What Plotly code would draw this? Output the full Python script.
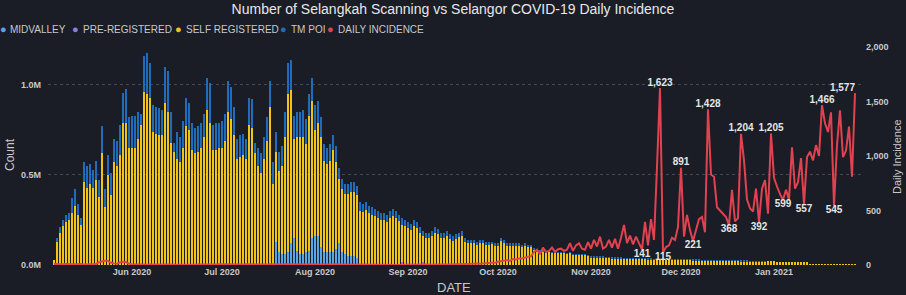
import pandas as pd
import plotly.graph_objects as go

# ---------------- data (counts in thousands) ----------------
start_date = "2020-05-06"

self_registered = [
    30, 130, 180, 215, 240, 250, 290,
    330, 280, 220, 460, 430, 450, 430,
    470, 380, 620, 320, 500, 390, 570,
    550, 610, 790, 790, 650, 650, 650,
    700, 780, 960, 950, 930, 740, 730,
    720, 720, 900, 850, 680, 630, 590,
    570, 650, 770, 750, 640, 620, 630,
    650, 710, 860, 790, 640, 640, 650,
    650, 690, 850, 810, 720, 590, 600,
    610, 590, 780, 760, 620, 550, 510,
    590, 690, 880, 450, 500, 450, 490,
    650, 880, 850, 550, 630, 650, 650,
    600, 750, 760, 590, 630, 610, 510,
    490, 510, 570, 480, 360, 350, 335,
    345, 355, 355, 350, 300, 295, 305,
    290, 280, 270, 260, 250, 250, 240,
    260, 270, 260, 242, 209, 215, 205,
    196, 216, 207, 178, 145, 152, 152,
    162, 180, 170, 152, 152, 162, 144,
    135, 145, 154, 163, 128, 120, 120,
    120, 112, 122, 122, 112, 113, 114,
    104, 105, 132, 124, 106, 106, 106,
    106, 106, 98, 108, 100, 100, 84,
    76, 76, 76, 67, 77, 67, 67,
    67, 67, 67, 62, 67, 57, 57,
    58, 58, 58, 53, 43, 43, 43,
    43, 43, 40, 40, 38, 38, 38,
    38, 36, 36, 36, 34, 34, 34,
    34, 34, 33, 33, 32, 32, 32,
    31, 31, 30, 30, 29, 29, 29,
    29, 28, 28, 27, 27, 27, 26,
    26, 26, 25, 25, 25, 24, 24,
    24, 24, 23, 23, 23, 22, 22,
    22, 21, 21, 21, 20, 20, 20,
    20, 20, 20, 19, 19, 19, 18,
    18, 18, 17, 17, 17, 16, 16,
    4, 4, 4, 3, 3, 3, 3,
    3, 3, 3, 3, 3, 3, 3,
    3, 3,
]

tm_poi = [
    0, 20, 30, 35, 40, 40, 80,
    90, 60, 40, 110, 120, 110, 100,
    110, 90, 150, 100, 110, 120, 130,
    140, 170, 165, 190, 170, 180, 180,
    150, 60, 200, 230, 190, 150, 150,
    150, 140, 200, 230, 170, 50, 150,
    140, 150, 160, 150, 150, 140, 140,
    140, 130, 180, 220, 140, 150, 140,
    150, 150, 170, 180, 160, 110, 120,
    120, 110, 150, 160, 60, 100, 110,
    120, 130, 140, 120, 110, 110, 110,
    140, 170, 170, 130, 140, 140, 150,
    140, 120, 130, 140, 120, 110, 90,
    90, 90, 80, 90, 60, 60, 55,
    55, 55, 55, 50, 50, 45, 45,
    40, 40, 40, 40, 40, 40, 40,
    40, 40, 40, 38, 36, 35, 35,
    34, 34, 33, 32, 30, 28, 28,
    28, 30, 30, 28, 28, 28, 26,
    25, 25, 26, 27, 22, 20, 20,
    20, 18, 18, 18, 18, 17, 16,
    16, 15, 18, 16, 14, 14, 14,
    14, 14, 12, 12, 10, 10, 6,
    4, 4, 4, 3, 3, 3, 3,
    3, 3, 3, 3, 3, 3, 3,
    2, 2, 2, 2, 2, 2, 2,
    2, 2, 2, 2, 2, 2, 2,
    2, 2, 2, 2, 2, 2, 2,
    1, 1, 1, 1, 1, 1, 1,
    1, 1, 1, 1, 1, 1, 1,
    1, 1, 1, 1, 1, 1, 1,
    1, 1, 1, 1, 1, 1, 1,
    1, 1, 1, 1, 1, 1, 1,
    1, 1, 1, 1, 1, 1, 1,
]

midvalley_start = "2020-07-19"
midvalley = [130, 70, 60, 60, 70, 120, 150, 80, 60, 60, 70, 80, 150, 160,
             160, 100, 70, 70, 70, 70, 90, 120, 70, 60, 50, 50, 50, 40]

pre_registered_dates = ["2020-08-30", "2020-09-06"]
pre_registered = [15, 15]

daily_incidence = [
    10, 8, 12, 6, 9, 5, 7,
    6, 8, 10, 5, 7, 6, 9,
    10, 25, 35, 40, 38, 20, 15,
    12, 25, 30, 28, 12, 8, 6,
    5, 4, 6, 3, 5, 4, 3,
    4, 3, 5, 2, 3, 4, 2,
    3, 2, 4, 3, 2, 3, 5,
    4, 3, 2, 5, 3, 4, 6,
    5, 4, 3, 6, 4, 3, 5,
    4, 6, 5, 3, 4, 5, 3,
    5, 4, 6, 4, 3, 5, 4,
    6, 5, 4, 7, 5, 4, 6,
    5, 7, 4, 6, 5, 4, 3,
    4, 3, 5, 6, 4, 3, 2,
    3, 2, 4, 3, 2, 1, 3,
    2, 3, 1, 2, 3, 2, 1,
    2, 1, 3, 2, 1, 2, 3,
    2, 3, 4, 2, 3, 5, 4,
    3, 5, 4, 6, 5, 4, 6,
    5, 7, 6, 8, 10, 9, 12,
    10, 14, 12, 16, 15, 18, 20,
    20, 30, 35, 40, 45, 40, 55,
    50, 60, 60, 70, 75, 80, 120,
    140, 100, 160, 120, 130, 160, 120,
    145, 150, 130, 140, 200, 130, 180,
    200, 150, 140, 210, 150, 230, 170,
    260, 150, 170, 230, 160, 240, 150,
    250, 367, 200, 270, 190, 260, 200,
    141, 395, 180, 420, 230, 900, 1623,
    115, 165, 180, 250, 230, 350, 891,
    260, 460, 320, 221, 330, 420, 440,
    300, 1428, 830, 810, 530, 500, 470,
    440, 368, 690, 400, 430, 1204, 960,
    600, 520, 490, 700, 392, 700, 780,
    470, 1205, 800, 720, 650, 599, 690,
    600, 1080, 700, 760, 980, 557, 990,
    1040, 960, 1100, 1000, 1466, 1300, 1220,
    1400, 545, 1100, 1420, 990, 1050, 1270,
    810, 1577,
]

# labelled points of the incidence line: date -> label position
labelled_points = {
    "2020-11-18": "bottom center", "2020-11-24": "top center",
    "2020-11-25": "bottom center", "2020-12-01": "top center",
    "2020-12-05": "bottom center", "2020-12-10": "top center",
    "2020-12-17": "bottom center", "2020-12-21": "top center",
    "2020-12-27": "bottom center", "2020-12-31": "top center",
    "2021-01-04": "bottom center", "2021-01-11": "bottom center",
    "2021-01-17": "top center", "2021-01-21": "bottom center",
    "2021-01-28": "top left",
}

month_ticks = ["2020-06-01", "2020-07-01", "2020-08-01", "2020-09-01",
               "2020-10-01", "2020-11-01", "2020-12-01", "2021-01-01"]
month_labels = ["Jun 2020", "Jul 2020", "Aug 2020", "Sep 2020",
                "Oct 2020", "Nov 2020", "Dec 2020", "Jan 2021"]
count_ticks = [0, 500, 1000]
count_labels = ["0.0M", "0.5M", "1.0M"]
incidence_ticks = [0, 500, 1000, 1500, 2000]

# ---------------- styling ----------------
BG = "#1a1c26"
C_MID = "#5aa5e6"
C_PRE = "#8c7fd8"
C_SELF = "#f0c417"
C_TM = "#1f6cbd"
C_RED = "#e0434f"
TXT = "#c9c9c9"
FONT = "Liberation Sans"

dates_all = pd.date_range(start_date, periods=len(self_registered), freq="D")
dates_tm = pd.date_range(start_date, periods=len(tm_poi), freq="D")
dates_mid = pd.date_range(midvalley_start, periods=len(midvalley), freq="D")
dates_inc = pd.date_range(start_date, periods=len(daily_incidence), freq="D")

texts, positions = [], []
for d, v in zip(dates_inc, daily_incidence):
    key = d.strftime("%Y-%m-%d")
    if key in labelled_points:
        texts.append(f"{v:,}")
        positions.append(labelled_points[key])
    else:
        texts.append("")
        positions.append("top center")

DAY_MS = 86400000
BAR_W = DAY_MS * 2 / 3

fig = go.Figure()
fig.add_trace(go.Bar(x=dates_mid, y=midvalley, name="MIDVALLEY", width=BAR_W,
                     marker=dict(color=C_MID, line=dict(width=0))))
fig.add_trace(go.Bar(x=pd.to_datetime(pre_registered_dates), y=pre_registered,
                     name="PRE-REGISTERED", width=BAR_W,
                     marker=dict(color=C_PRE, line=dict(width=0))))
fig.add_trace(go.Bar(x=dates_all, y=self_registered, name="SELF REGISTERED",
                     width=BAR_W, marker=dict(color=C_SELF, line=dict(width=0))))
fig.add_trace(go.Bar(x=dates_tm, y=tm_poi, name="TM POI", width=BAR_W,
                     marker=dict(color=C_TM, line=dict(width=0))))
fig.add_trace(go.Scatter(x=dates_inc, y=daily_incidence, name="DAILY INCIDENCE",
                         yaxis="y2", mode="lines+text",
                         line=dict(color=C_RED, width=2),
                         text=texts, textposition=positions,
                         textfont=dict(family=FONT, size=10, color="#e6e6e6", weight=600),
                         cliponaxis=False))

# plot area: 813 px for 271 days -> exactly 3 px per day
L, R, T, B = 48, 45, 47, 30
W, H = 906, 295
pw, ph = W - L - R, H - T - B


def px(x):
    return (x - L) / pw


def py(y):
    return (H - B - y) / ph


annotations = []
legend_items = [
    (3, 8, "MIDVALLEY", C_MID),
    (75, 81, "PRE-REGISTERED", C_PRE),
    (178, 184, "SELF REGISTERED", C_SELF),
    (283, 289, "TM POI", C_TM),
    (330, 336, "DAILY INCIDENCE", C_RED),
]
for dot_x, txt_x, label, col in legend_items:
    annotations.append(dict(xref="paper", yref="paper", x=px(dot_x), y=py(29),
                            text="●", showarrow=False, xanchor="center", yanchor="middle",
                            font=dict(family=FONT, size=11, color=col)))
    annotations.append(dict(xref="paper", yref="paper", x=px(txt_x), y=py(29),
                            text=label, showarrow=False, xanchor="left", yanchor="middle",
                            font=dict(family=FONT, size=10, color=TXT)))

annotations.append(dict(xref="paper", yref="paper", x=px(454), y=py(287), text="DATE",
                        showarrow=False, xanchor="center", yanchor="middle",
                        font=dict(family=FONT, size=13, color=TXT)))
annotations.append(dict(xref="paper", yref="paper", x=px(10), y=py(155), text="Count",
                        showarrow=False, xanchor="center", yanchor="middle", textangle=-90,
                        font=dict(family=FONT, size=12, color=TXT)))
annotations.append(dict(xref="paper", yref="paper", x=px(897), y=py(157),
                        text="Daily Incidence", showarrow=False, xanchor="center",
                        yanchor="middle", textangle=-90,
                        font=dict(family=FONT, size=11, color=TXT)))

fig.update_layout(
    width=W, height=H,
    margin=dict(l=L, r=R, t=T, b=B, pad=0),
    paper_bgcolor=BG, plot_bgcolor=BG,
    barmode="stack",
    showlegend=False,
    font=dict(family=FONT, color=TXT),
    title=dict(text="Number of Selangkah Scanning vs Selangor COVID-19 Daily Incidence",
               x=0.5, xref="container", xanchor="center",
               y=1 - 9 / H, yref="container", yanchor="middle",
               font=dict(family=FONT, size=14, color="#e8e8e8")),
    xaxis=dict(type="date", range=["2020-05-04", "2021-01-30"],
               tickvals=pd.to_datetime(month_ticks), ticktext=month_labels,
               tickfont=dict(family=FONT, size=9, color=TXT, weight=600),
               showgrid=False, zeroline=False, showline=False, ticks="",
               automargin=False),
    yaxis=dict(range=[0, 1211], tickvals=count_ticks, ticktext=count_labels,
               tickfont=dict(family=FONT, size=9, color=TXT, weight=600),
               showgrid=True, gridcolor="#454855", griddash="dot", gridwidth=1,
               zeroline=False, showline=False, ticks="", ticklabelstandoff=6,
               automargin=False),
    yaxis2=dict(overlaying="y", side="right", range=[0, 2000],
                tickvals=incidence_ticks, tickformat=",",
                tickfont=dict(family=FONT, size=9, color=TXT, weight=600),
                showgrid=False, zeroline=False, showline=False, ticks="",
                ticklabelstandoff=4, automargin=False),
    annotations=annotations,
)

fig.write_html("out.html")
